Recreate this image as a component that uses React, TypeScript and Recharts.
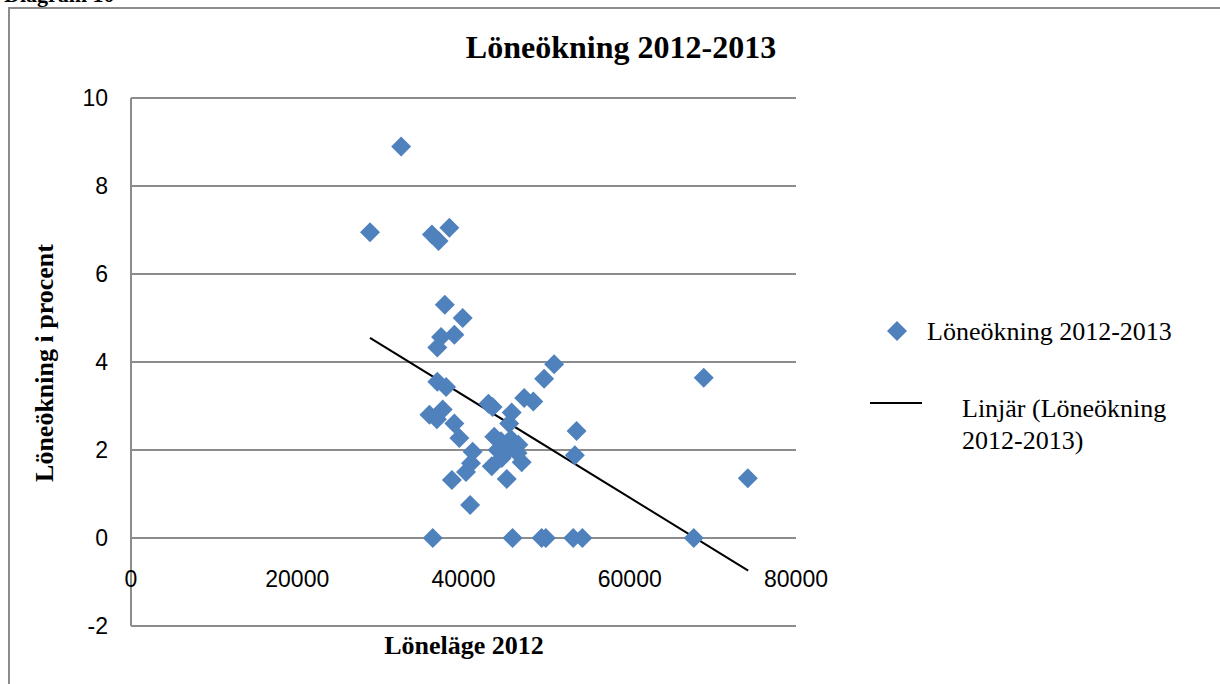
import React from "react";
import {
  ScatterChart,
  Scatter,
  XAxis,
  YAxis,
  CartesianGrid,
  ReferenceLine,
} from "recharts";

const salary2012: number[] = [
  32500, 28750, 36200, 37000, 38300, 37750, 39900, 37300, 38900, 36850,
  36850, 37900, 35900, 36800, 37500, 38900, 39500, 41100, 40900, 40300,
  38600, 40800, 36300, 43000, 43500, 47300, 48400, 49700, 50900, 45800,
  45500, 43700, 44500, 45700, 46600, 45100, 46500, 44600, 43400, 47000,
  45200, 45900, 49400, 49900, 53200, 54300, 53600, 53400, 67700, 68900,
  74200, 44100, 45000,
];
const increasePct: number[] = [
  8.9, 6.95, 6.9, 6.75, 7.05, 5.3, 5.0, 4.57, 4.62, 4.33,
  3.55, 3.43, 2.8, 2.7, 2.92, 2.6, 2.27, 1.96, 1.7, 1.5,
  1.32, 0.75, 0, 3.05, 2.98, 3.18, 3.1, 3.62, 3.95, 2.85,
  2.6, 2.3, 2.2, 2.25, 2.12, 1.95, 1.93, 1.82, 1.63, 1.72,
  1.34, 0, 0, 0, 0, 0, 2.43, 1.88, 0, 3.64,
  1.36, 2.0, 2.1,
];
const trendX: number[] = [28750, 74250];
const trendY: number[] = [4.55, -0.74];
const xTicks: number[] = [0, 20000, 40000, 60000, 80000];
const yTicks: number[] = [-2, 0, 2, 4, 6, 8, 10];

const title = "Löneökning 2012-2013";
const xLabel = "Löneläge 2012";
const yLabel = "Löneökning i procent";
const seriesName = "Löneökning 2012-2013";
const trendName1 = "Linjär (Löneökning";
const trendName2 = "2012-2013)";

const points = salary2012.map((x, i) => ({ x, y: increasePct[i] }));

const BLUE = "#4F81BD";
const GRID = "#8c8c8c";
const SERIF = "'Liberation Serif', 'Times New Roman', serif";
const SANS = "'Liberation Sans', Arial, sans-serif";

const Diamond = (props: any) => {
  const { cx, cy } = props;
  if (cx == null || cy == null) return null;
  const r = 10;
  return (
    <polygon
      points={`${cx},${cy - r} ${cx + r},${cy} ${cx},${cy + r} ${cx - r},${cy}`}
      fill={BLUE}
    />
  );
};

const XTick = (props: any) => {
  const { x, y, payload } = props;
  return (
    <text
      x={x}
      y={y - 39}
      textAnchor="middle"
      fontFamily={SANS}
      fontSize={23}
      fill="#000"
    >
      {payload.value}
    </text>
  );
};

export default function App() {
  return (
    <div
      style={{
        position: "absolute",
        left: 0,
        top: 0,
        width: 1220,
        height: 684,
        background: "#fff",
        overflow: "hidden",
      }}
    >
      <div
        style={{
          position: "absolute",
          left: 4,
          top: -16,
          fontFamily: SERIF,
          fontWeight: "bold",
          fontSize: 22,
          lineHeight: 1,
          whiteSpace: "nowrap",
        }}
      >
        Diagram 10
      </div>
      <div
        style={{
          position: "absolute",
          left: 8,
          top: 7,
          width: 1212,
          height: 677,
          borderTop: `2px solid ${GRID}`,
          borderLeft: `2px solid ${GRID}`,
          boxSizing: "border-box",
        }}
      />
      <ScatterChart
        width={1220}
        height={684}
        margin={{ top: 98, right: 424, bottom: 0, left: 0 }}
        style={{ position: "absolute", left: 0, top: 0 }}
      >
        <CartesianGrid
          vertical={false}
          stroke={GRID}
          strokeWidth={2}
          horizontalValues={yTicks}
        />
        <XAxis
          type="number"
          dataKey="x"
          domain={[0, 80000]}
          ticks={xTicks}
          height={58}
          axisLine={false}
          tickLine={false}
          tickSize={0}
          tickMargin={0}
          tick={<XTick />}
          interval={0}
        />
        <YAxis
          type="number"
          dataKey="y"
          domain={[-2, 10]}
          ticks={yTicks}
          width={131}
          axisLine={{ stroke: GRID, strokeWidth: 2 }}
          tickLine={false}
          tickMargin={17}
          interval={0}
          tick={{ fontFamily: SANS, fontSize: 23, fill: "#000" }}
        />
        <Scatter
          data={points}
          shape={<Diamond />}
          isAnimationActive={false}
        />
        <ReferenceLine
          segment={[
            { x: trendX[0], y: trendY[0] },
            { x: trendX[1], y: trendY[1] },
          ]}
          stroke="#000"
          strokeWidth={2}
          ifOverflow="visible"
        />
      </ScatterChart>
      <div
        style={{
          position: "absolute",
          left: 0,
          width: 1242,
          top: 28,
          textAlign: "center",
          fontFamily: SERIF,
          fontWeight: "bold",
          fontSize: 32,
          lineHeight: "38px",
          whiteSpace: "nowrap",
        }}
      >
        {title}
      </div>
      <div
        style={{
          position: "absolute",
          left: 383,
          width: 162,
          top: 630,
          textAlign: "center",
          fontFamily: SERIF,
          fontWeight: "bold",
          fontSize: 26,
          lineHeight: "32px",
          whiteSpace: "nowrap",
        }}
      >
        {xLabel}
      </div>
      <div
        style={{
          position: "absolute",
          left: 45,
          top: 363,
          transform: "translate(-50%, -50%) rotate(-90deg)",
          fontFamily: SERIF,
          fontWeight: "bold",
          fontSize: 26,
          lineHeight: "30px",
          whiteSpace: "nowrap",
        }}
      >
        {yLabel}
      </div>
      <svg
        style={{ position: "absolute", left: 0, top: 0 }}
        width={1220}
        height={684}
        pointerEvents="none"
      >
        <polygon points="897,321 907,331 897,341 887,331" fill={BLUE} />
        <line x1={870} y1={403} x2={922} y2={403} stroke="#000" strokeWidth={2} />
        <text x={927} y={340} fontFamily={SERIF} fontSize={26} fill="#000">
          {seriesName}
        </text>
        <text x={962} y={417} fontFamily={SERIF} fontSize={26} fill="#000">
          {trendName1}
        </text>
        <text x={962} y={449} fontFamily={SERIF} fontSize={26} fill="#000">
          {trendName2}
        </text>
      </svg>
    </div>
  );
}
